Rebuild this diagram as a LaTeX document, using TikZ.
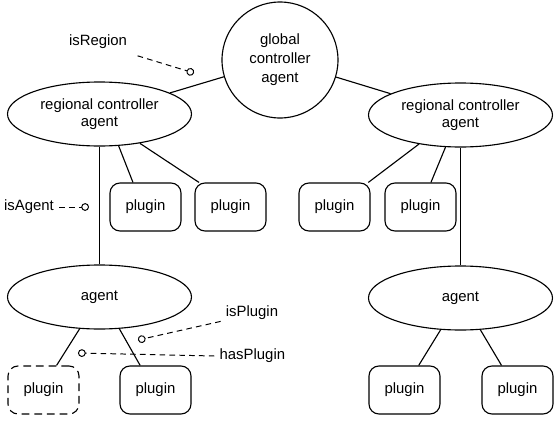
\documentclass[tikz,border=0pt]{standalone}
\usepackage{fontspec}
\setmainfont{Liberation Sans}
\usetikzlibrary{positioning,shapes.geometric,arrows.meta}

\begin{document}
\begin{tikzpicture}[on grid,line width=0.8pt,
  ctrl/.style={draw,circle,minimum size=2.9cm,inner sep=0pt,align=center,font=\fontsize{10.6pt}{13.5pt}\selectfont},
  region/.style={draw,ellipse,minimum width=4.6cm,minimum height=1.6cm,inner sep=0pt,align=center,font=\fontsize{10.6pt}{12.2pt}\selectfont},
  plugin/.style={draw,rounded corners=0.25cm,minimum width=1.775cm,minimum height=1.2cm,font=\fontsize{10.6pt}{12pt}\selectfont},
  optplugin/.style={plugin,dash pattern=on 5.5pt off 3.5pt},
  label/.style={font=\fontsize{10.6pt}{12pt}\selectfont},
  note/.style={line width=0.7pt,dash pattern=on 4pt off 3pt,-{Circle[open,length=5.5pt,width=5.5pt]}}]
\useasboundingbox (-7,1.5) rectangle (6.85,-9.15);
\draw (0,0) node[ctrl] (global) {global\\controller\\agent};
\node[region] (regionL) [below left=1.35cm and 4.5125cm of global] {regional controller\\agent};
\node[region] (regionR) [below right=1.375cm and 4.5125cm of global] {regional controller\\agent};
\node[region] (agentL) [below=4.575cm of regionL] {agent};
\node[region] (agentR) [below=4.575cm of regionR] {agent};
\node[plugin] (pluginA) [below right=2.325cm and 1.15cm of regionL] {plugin};
\node[plugin] (pluginB) [below right=2.325cm and 3.275cm of regionL] {plugin};
\node[plugin] (pluginC) [below left=2.3cm and 3.15cm of regionR] {plugin};
\node[plugin] (pluginD) [below left=2.3cm and 1cm of regionR] {plugin};
\node[optplugin] (pluginE) [below left=2.325cm and 1.4cm of agentL] {plugin};
\node[plugin] (pluginF) [below right=2.325cm and 1.4cm of agentL] {plugin};
\node[plugin] (pluginG) [below left=2.3cm and 1.4cm of agentR] {plugin};
\node[plugin] (pluginH) [below right=2.3cm and 1.425cm of agentR] {plugin};

\draw (global) -- (regionL);
\draw (global) -- (regionR);
\draw (regionL) -- (agentL);
\draw (regionR) -- (agentR);
\draw (regionL.-59) -- (pluginA.117);
\draw (regionL.-36) -- (pluginB.142);
\draw (regionR.215) -- (pluginC.36);
\draw (regionR.245) -- (pluginD.67);
\draw (agentL.238) -- (pluginE.62);
\draw (agentL.302) -- (pluginF.122);
\draw (agentR.238) -- (pluginG.60);
\draw (agentR.302) -- (pluginH.123);

\node[label] (isRegion) at (-4.55,0.45) {isRegion};
\node[label] (isAgent) at (-6.275,-3.675) {isAgent};
\node[label] (isPlugin) at (-0.7,-6.325) {isPlugin};
\node[label] (hasPlugin) at (-0.69,-7.4) {hasPlugin};
\coordinate (isRegionTip) at (-2.15,-0.325);
\coordinate (isAgentTip) at (-4.775,-3.675);
\coordinate (isPluginTip) at (-3.55,-7.0);
\coordinate (hasPluginTip) at (-5.05,-7.325);
\draw[note,shorten <=4pt] (isRegion.south east) -- (isRegionTip);
\draw[note] (isAgent.east) -- (isAgentTip);
\draw[note] (isPlugin.195) -- (isPluginTip);
\draw[note] (hasPlugin.west) -- (hasPluginTip);
\end{tikzpicture}
\end{document}
